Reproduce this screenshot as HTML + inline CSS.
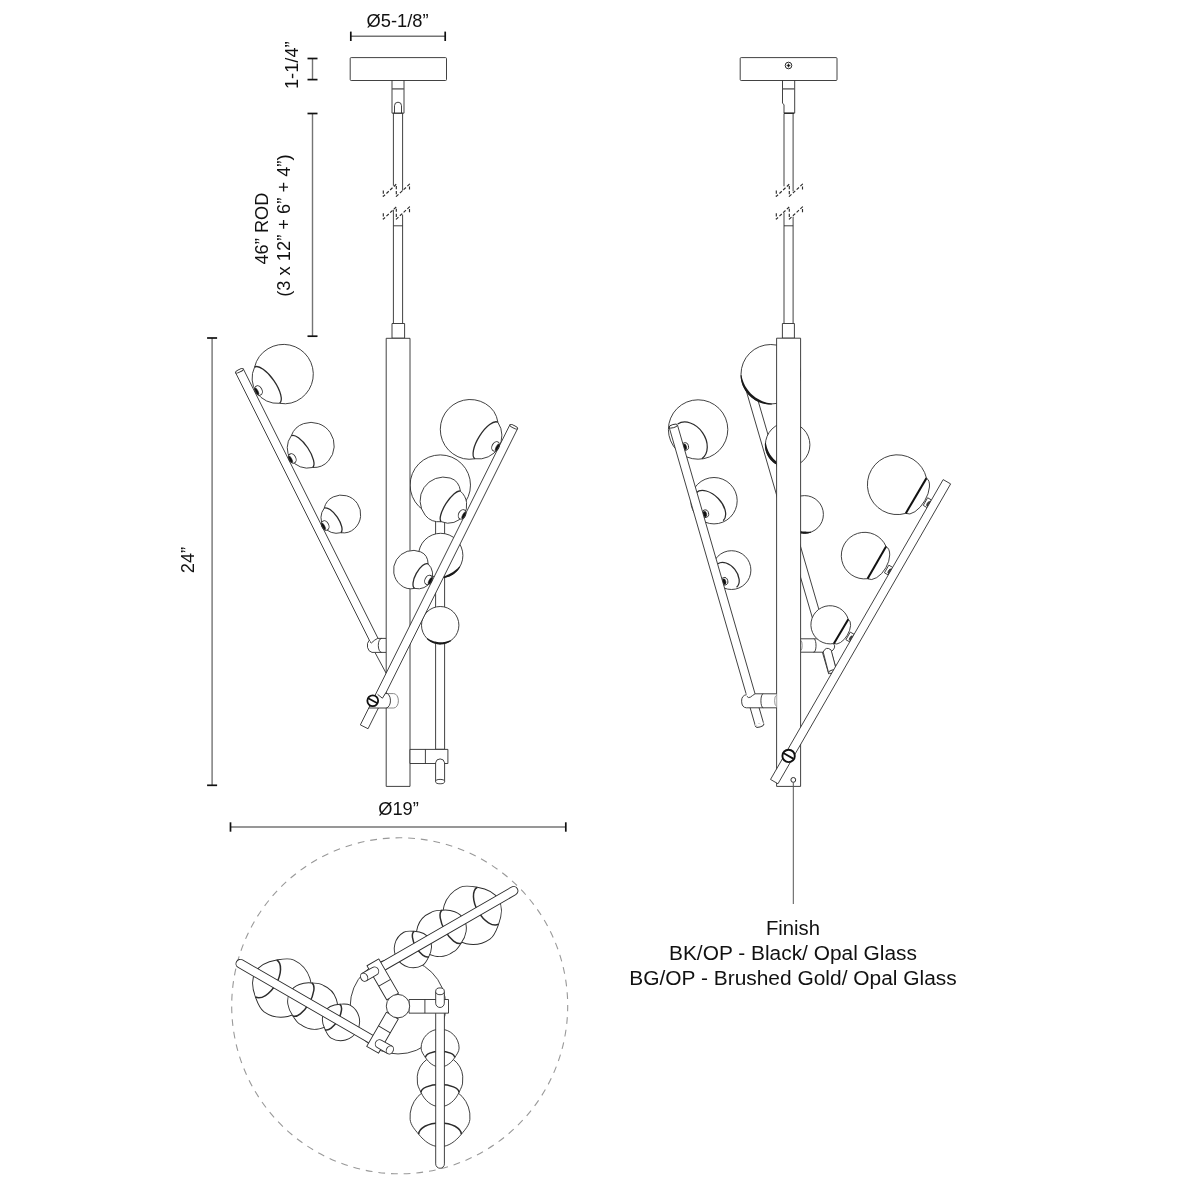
<!DOCTYPE html>
<html lang="en">
<head>
<meta charset="utf-8">
<title>Pendant dimensions</title>
<style>
html,body{margin:0;padding:0;background:#fff;}
body{width:1200px;height:1200px;overflow:hidden;}
svg{display:block;will-change:transform;}
svg text{font-family:"Liberation Sans",sans-serif;fill:#111;}
</style>
</head>
<body>
<svg width="1200" height="1200" viewBox="0 0 1200 1200" stroke-linecap="butt" stroke-linejoin="round">
<rect x="0" y="0" width="1200" height="1200" fill="#ffffff"/>
<rect x="350.2" y="57.6" width="96.3" height="22.9" rx="1" fill="#fff" stroke="#2c2c2c" stroke-width="0.9"/>
<line x1="392" y1="80.5" x2="392" y2="113.2" stroke="#2c2c2c" stroke-width="0.9" />
<line x1="392.3" y1="113.2" x2="403.7" y2="113.2" stroke="#2c2c2c" stroke-width="1.3" />
<line x1="404" y1="80.5" x2="404" y2="113.2" stroke="#2c2c2c" stroke-width="0.9" />
<line x1="392" y1="88.9" x2="404" y2="88.9" stroke="#555" stroke-width="1.3" />
<line x1="393.4" y1="113.5" x2="393.4" y2="185.7" stroke="#2c2c2c" stroke-width="0.9" />
<line x1="402.6" y1="113.5" x2="402.6" y2="190.7" stroke="#2c2c2c" stroke-width="0.9" />
<line x1="393.4" y1="209.7" x2="393.4" y2="323.5" stroke="#2c2c2c" stroke-width="0.9" />
<line x1="402.6" y1="214.7" x2="402.6" y2="323.5" stroke="#2c2c2c" stroke-width="0.9" />
<line x1="393.4" y1="225.8" x2="402.6" y2="225.8" stroke="#2c2c2c" stroke-width="0.9" />
<path d="M383.3 190.5 L383.3 196.4 L396.3 184.2 L396.3 196.4 L409.5 184.2 L409.5 190.9" fill="none" stroke="#2c2c2c" stroke-width="1.15" stroke-dasharray="3.2 1.9"/>
<path d="M383.3 213.2 L383.3 219.1 L396.3 206.9 L396.3 219.1 L409.5 206.9 L409.5 213.6" fill="none" stroke="#2c2c2c" stroke-width="1.15" stroke-dasharray="3.2 1.9"/>
<rect x="392" y="323.5" width="12.6" height="14.7" rx="0" fill="#fff" stroke="#2c2c2c" stroke-width="0.9"/>
<path d="M394.5 113 V105.7 A3.5 3.5 0 0 1 401.5 105.7 V113" fill="none" stroke="#2c2c2c" stroke-width="0.9" />
<line x1="375.1" y1="652.7" x2="386" y2="673" stroke="#2c2c2c" stroke-width="0.9" />
<path d="M301.59 397.88 A29.8 29.8 0 0 0 268.06 348.71 Q257.34 355.2 254.6 367.1 A25.3 25.3 0 0 0 279.6 403.3 Q291.69 405.44 301.59 397.88 Z" fill="#fff" stroke="#2c2c2c" stroke-width="0.9" />
<path d="M254.6 367.1 A22 8.4 55.37 0 1 279.6 403.3" fill="none" stroke="#2c2c2c" stroke-width="1.3" />
<path d="M328.49 460.85 A23.2 23.2 0 0 0 303.6 423.61 Q294.55 426.66 291.25 435.8 A20.24 20.24 0 0 0 312.5 467.5 Q322.23 468.02 328.49 460.85 Z" fill="#fff" stroke="#2c2c2c" stroke-width="0.9" />
<path d="M291.25 435.8 A19.08 7 56.16 0 1 312.5 467.5" fill="none" stroke="#2c2c2c" stroke-width="1.3" />
<path d="M354.59 528.49 A19.3 19.3 0 0 0 333.19 496.93 Q326.02 500.31 324.2 508.2 A15.58 15.58 0 0 0 340.8 532.7 Q348.8 533.91 354.59 528.49 Z" fill="#fff" stroke="#2c2c2c" stroke-width="0.9" />
<path d="M324.2 508.2 A14.8 5.9 55.88 0 1 340.8 532.7" fill="none" stroke="#2c2c2c" stroke-width="1.3" />
<path d="M235.6 372.72 L373.7 648.92 L381.4 645.08 L243.3 368.88 Z" fill="#fff" stroke="none" stroke-width="0" />
<line x1="235.6" y1="372.72" x2="373.7" y2="648.92" stroke="#2c2c2c" stroke-width="0.9" />
<line x1="243.3" y1="368.88" x2="381.4" y2="645.08" stroke="#2c2c2c" stroke-width="0.9" />
<ellipse cx="239.45" cy="370.8" rx="4.3" ry="1.3" transform="rotate(-26.57 239.45 370.8)" fill="#fff" stroke="#2c2c2c" stroke-width="0.9"/>
<ellipse cx="258.5" cy="390.5" rx="3.5" ry="5" transform="rotate(-27 258.5 390.5)" fill="#fff" stroke="#2c2c2c" stroke-width="0.9"/>
<ellipse cx="256.81" cy="391.36" rx="1.26" ry="3.7" transform="rotate(-27 256.81 391.36)" fill="#111" stroke="#2c2c2c" stroke-width="0.5"/>
<ellipse cx="292.3" cy="458.45" rx="3.5" ry="5" transform="rotate(-27 292.3 458.45)" fill="#fff" stroke="#2c2c2c" stroke-width="0.9"/>
<ellipse cx="290.61" cy="459.31" rx="1.26" ry="3.7" transform="rotate(-27 290.61 459.31)" fill="#111" stroke="#2c2c2c" stroke-width="0.5"/>
<ellipse cx="325.2" cy="525.5" rx="3.5" ry="5" transform="rotate(-27 325.2 525.5)" fill="#fff" stroke="#2c2c2c" stroke-width="0.9"/>
<ellipse cx="323.51" cy="526.36" rx="1.26" ry="3.7" transform="rotate(-27 323.51 526.36)" fill="#111" stroke="#2c2c2c" stroke-width="0.5"/>
<path d="M386.2 638.4 H377.7 L371.3 643 L369.2 640.4 A5.6 7 0 0 0 372 652.4 H386.2 Z" fill="#fff" stroke="none" stroke-width="0" />
<line x1="377.7" y1="638.4" x2="386.2" y2="638.4" stroke="#2c2c2c" stroke-width="0.9" />
<path d="M369.3 640.2 A5.7 7 0 0 0 372 652.4 H386.2" fill="none" stroke="#2c2c2c" stroke-width="0.9" />
<path d="M370.1 641.9 L371.3 643 Q375 639.4 377.7 638.4" fill="none" stroke="#2c2c2c" stroke-width="0.9" />
<path d="M381.6 638.4 A3.3 7 0 0 0 381.6 652.4" fill="none" stroke="#2c2c2c" stroke-width="0.9" />
<rect x="435.6" y="515" width="9" height="234.3" rx="0" fill="#fff" stroke="#2c2c2c" stroke-width="0.9"/>
<circle cx="440.3" cy="485.1" r="30.2" fill="#fff" stroke="#2c2c2c" stroke-width="0.9" />
<circle cx="440.7" cy="555.5" r="22.2" fill="#fff" stroke="#2c2c2c" stroke-width="0.9" />
<path d="M460.36 566.85 L459.91 567.6 L459.42 568.33 L458.91 569.05 L458.38 569.74 L457.81 570.41 L457.22 571.06 L456.61 571.69 L455.97 572.29 L455.31 572.87 L454.63 573.42 L453.93 573.95 L453.21 574.44 L452.46 574.91 L451.71 575.35 L450.93 575.76 L450.14 576.14 L449.33 576.49 L448.52 576.81 L447.69 577.1 L446.85 577.35 L446 577.57 L445.14 577.76 L444.28 577.92 L443.41 578.04 L442.54 578.13 L441.66 578.18 L440.78 578.2 L439.91 578.19 L439.94 577.29 L440.78 577.06 L441.61 576.86 L442.42 576.65 L443.22 576.43 L444 576.19 L444.78 575.94 L445.54 575.67 L446.29 575.38 L447.03 575.08 L447.76 574.76 L448.48 574.43 L449.19 574.08 L449.9 573.72 L450.59 573.34 L451.28 572.95 L451.95 572.55 L452.62 572.13 L453.29 571.7 L453.94 571.24 L454.59 570.78 L455.24 570.29 L455.87 569.79 L456.5 569.27 L457.12 568.73 L457.73 568.17 L458.33 567.59 L458.94 566.99 L459.58 566.4 Z" fill="#1a1a1a" stroke="none" stroke-width="0" />
<circle cx="440.2" cy="625.2" r="18.7" fill="#fff" stroke="#2c2c2c" stroke-width="0.9" />
<path d="M451.21 640.93 L450.42 641.46 L449.59 641.95 L448.75 642.39 L447.88 642.8 L446.99 643.16 L446.09 643.48 L445.17 643.75 L444.24 643.97 L443.3 644.15 L442.35 644.28 L441.4 644.36 L440.44 644.4 L439.48 644.39 L438.53 644.33 L437.58 644.22 L436.63 644.07 L435.69 643.86 L434.77 643.62 L433.86 643.32 L432.96 642.98 L432.09 642.6 L431.23 642.18 L430.39 641.71 L429.58 641.2 L428.8 640.65 L428.04 640.06 L427.32 639.44 L426.62 638.78 L427.26 638.14 L428.07 638.6 L428.86 639.06 L429.65 639.49 L430.45 639.89 L431.25 640.26 L432.07 640.59 L432.88 640.89 L433.7 641.16 L434.53 641.4 L435.36 641.61 L436.2 641.78 L437.03 641.93 L437.88 642.05 L438.72 642.14 L439.56 642.19 L440.41 642.22 L441.26 642.23 L442.12 642.2 L442.97 642.14 L443.82 642.05 L444.68 641.92 L445.54 641.77 L446.4 641.58 L447.25 641.36 L448.11 641.11 L448.96 640.82 L449.82 640.5 L450.7 640.19 Z" fill="#1a1a1a" stroke="none" stroke-width="0" />
<rect x="386.2" y="338.3" width="23.8" height="448.1" rx="0" fill="#fff" stroke="#2c2c2c" stroke-width="0.9"/>
<rect x="410" y="749.4" width="37.9" height="14.1" rx="0" fill="#fff" stroke="#2c2c2c" stroke-width="0.9"/>
<line x1="425.4" y1="749.4" x2="425.4" y2="763.5" stroke="#2c2c2c" stroke-width="0.9" />
<path d="M435.6 781.6 V762.8 A4.55 4.55 0 0 1 444.6 762.8 V781.6 Z" fill="#fff" stroke="none" stroke-width="0" />
<path d="M435.6 781.6 V762.8 A4.55 4.55 0 0 1 444.6 762.8 V781.6" fill="none" stroke="#2c2c2c" stroke-width="0.9" />
<ellipse cx="440.1" cy="781.6" rx="4.5" ry="2.2" transform="rotate(0 440.1 781.6)" fill="#fff" stroke="#2c2c2c" stroke-width="0.9"/>
<path d="M452.75 453.68 A29.9 29.9 0 0 1 485.43 403.67 Q496.04 409.95 497.9 422.3 A23.54 23.54 0 0 1 475 458.75 Q462.94 461.01 452.75 453.68 Z" fill="#fff" stroke="#2c2c2c" stroke-width="0.9" />
<path d="M497.9 422.3 A21.52 8.2 122.14 0 0 475 458.75" fill="none" stroke="#2c2c2c" stroke-width="1.3" />
<path d="M425.28 515.32 A23.5 23.5 0 0 1 450.15 478.03 Q459.04 480.61 460.5 491.3 A18.19 18.19 0 0 1 441.3 521.7 Q431.22 522.71 425.28 515.32 Z" fill="#fff" stroke="#2c2c2c" stroke-width="0.9" />
<path d="M460.5 491.3 A17.98 5.8 122.28 0 0 441.3 521.7" fill="none" stroke="#2c2c2c" stroke-width="1.3" />
<path d="M400.51 584.94 A19.6 19.6 0 0 1 420.78 551.92 Q427.9 554.91 428.1 563.9 A14.43 14.43 0 0 1 414.7 588.4 Q406.63 590.14 400.51 584.94 Z" fill="#fff" stroke="#2c2c2c" stroke-width="0.9" />
<path d="M428.1 563.9 A13.96 5.8 118.68 0 0 414.7 588.4" fill="none" stroke="#2c2c2c" stroke-width="1.3" />
<path d="M509.9 424.78 L360.35 724.88 L368.05 728.72 L517.6 428.62 Z" fill="#fff" stroke="none" stroke-width="0" />
<line x1="509.9" y1="424.78" x2="360.35" y2="724.88" stroke="#2c2c2c" stroke-width="0.9" />
<line x1="517.6" y1="428.62" x2="368.05" y2="728.72" stroke="#2c2c2c" stroke-width="0.9" />
<line x1="360.35" y1="724.88" x2="368.05" y2="728.72" stroke="#2c2c2c" stroke-width="0.9" />
<ellipse cx="513.75" cy="426.7" rx="4.3" ry="1.3" transform="rotate(26.5 513.75 426.7)" fill="#fff" stroke="#2c2c2c" stroke-width="0.9"/>
<ellipse cx="495.6" cy="446.4" rx="3.5" ry="5" transform="rotate(27 495.6 446.4)" fill="#fff" stroke="#2c2c2c" stroke-width="0.9"/>
<ellipse cx="497.29" cy="447.26" rx="1.26" ry="3.7" transform="rotate(27 497.29 447.26)" fill="#111" stroke="#2c2c2c" stroke-width="0.5"/>
<ellipse cx="462.1" cy="514.4" rx="3.5" ry="5" transform="rotate(27 462.1 514.4)" fill="#fff" stroke="#2c2c2c" stroke-width="0.9"/>
<ellipse cx="463.79" cy="515.26" rx="1.26" ry="3.7" transform="rotate(27 463.79 515.26)" fill="#111" stroke="#2c2c2c" stroke-width="0.5"/>
<ellipse cx="428.5" cy="579.95" rx="3.5" ry="5" transform="rotate(27 428.5 579.95)" fill="#fff" stroke="#2c2c2c" stroke-width="0.9"/>
<ellipse cx="430.19" cy="580.81" rx="1.26" ry="3.7" transform="rotate(27 430.19 580.81)" fill="#111" stroke="#2c2c2c" stroke-width="0.5"/>
<path d="M377.6 694.4 L382.4 698.2 L385.6 693.4 H393.7 A4.7 7.2 0 0 1 393.7 708 H371 L373 700 Z" fill="#fff" stroke="none" stroke-width="0" />
<path d="M393.7 693.6 A4.7 7.2 0 0 1 393.7 708" fill="none" stroke="#8a8a8a" stroke-width="1.0" />
<line x1="385.6" y1="693.6" x2="393.7" y2="693.6" stroke="#8a8a8a" stroke-width="1.0" />
<line x1="386.4" y1="708" x2="393.7" y2="708" stroke="#8a8a8a" stroke-width="1.0" />
<line x1="369" y1="708" x2="386.4" y2="708" stroke="#2c2c2c" stroke-width="0.9" />
<path d="M385.6 693.2 A4.5 7.3 0 0 1 386.2 708" fill="none" stroke="#2c2c2c" stroke-width="0.9" />
<path d="M385.6 693.1 L382.4 698.2 L377.6 694.4" fill="none" stroke="#2c2c2c" stroke-width="0.9" />
<circle cx="372.75" cy="700.7" r="5.4" fill="#fff" stroke="#111" stroke-width="1.8" />
<line x1="368.2" y1="698.3" x2="377.4" y2="703.2" stroke="#111" stroke-width="1.7" />
<line x1="350.8" y1="36.3" x2="445.2" y2="36.3" stroke="#747474" stroke-width="1.4" />
<line x1="350.8" y1="31.6" x2="350.8" y2="41" stroke="#111" stroke-width="1.7" />
<line x1="445.2" y1="31.6" x2="445.2" y2="41" stroke="#111" stroke-width="1.7" />
<text x="397.5" y="26.7" font-size="18.3" text-anchor="middle">Ø5-1/8”</text>
<line x1="312.5" y1="58.5" x2="312.5" y2="79.6" stroke="#747474" stroke-width="1.4" />
<line x1="307.5" y1="58.5" x2="317.5" y2="58.5" stroke="#111" stroke-width="1.7" />
<line x1="307.5" y1="79.6" x2="317.5" y2="79.6" stroke="#111" stroke-width="1.7" />
<text x="298" y="65.2" font-size="18.3" text-anchor="middle" transform="rotate(-90 298 65.2)">1-1/4”</text>
<line x1="312.5" y1="113.5" x2="312.5" y2="336.2" stroke="#747474" stroke-width="1.4" />
<line x1="307.5" y1="113.5" x2="317.5" y2="113.5" stroke="#111" stroke-width="1.7" />
<line x1="307.5" y1="336.2" x2="317.5" y2="336.2" stroke="#111" stroke-width="1.7" />
<text x="268.3" y="228.5" font-size="18.3" text-anchor="middle" transform="rotate(-90 268.3 228.5)">46” ROD</text>
<text x="290.3" y="225.6" font-size="18.3" text-anchor="middle" transform="rotate(-90 290.3 225.6)">(3 x 12” + 6” + 4”)</text>
<line x1="212.1" y1="338" x2="212.1" y2="785.3" stroke="#747474" stroke-width="1.4" />
<line x1="207.1" y1="338" x2="217.1" y2="338" stroke="#111" stroke-width="1.7" />
<line x1="207.1" y1="785.3" x2="217.1" y2="785.3" stroke="#111" stroke-width="1.7" />
<text x="194" y="560" font-size="18.3" text-anchor="middle" transform="rotate(-90 194 560)">24”</text>
<line x1="230.5" y1="827" x2="565.8" y2="827" stroke="#747474" stroke-width="1.4" />
<line x1="230.5" y1="822.3" x2="230.5" y2="831.7" stroke="#111" stroke-width="1.7" />
<line x1="565.8" y1="822.3" x2="565.8" y2="831.7" stroke="#111" stroke-width="1.7" />
<text x="398.5" y="815.3" font-size="18.3" text-anchor="middle">Ø19”</text>
<rect x="740.2" y="57.6" width="96.8" height="22.9" rx="1" fill="#fff" stroke="#2c2c2c" stroke-width="0.9"/>
<path d="M782.5 80.5 V103.3 L784 104.6 V113.2" fill="none" stroke="#2c2c2c" stroke-width="0.9" />
<line x1="784" y1="113.2" x2="794.4" y2="113.2" stroke="#2c2c2c" stroke-width="1.6" />
<line x1="794.7" y1="80.5" x2="794.7" y2="113.2" stroke="#2c2c2c" stroke-width="0.9" />
<line x1="782.5" y1="88.9" x2="794.7" y2="88.9" stroke="#555" stroke-width="1.3" />
<line x1="784" y1="113.5" x2="784" y2="186.3" stroke="#2c2c2c" stroke-width="0.9" />
<line x1="793.1" y1="113.5" x2="793.1" y2="191.3" stroke="#2c2c2c" stroke-width="0.9" />
<line x1="784" y1="212.7" x2="784" y2="323.5" stroke="#2c2c2c" stroke-width="0.9" />
<line x1="793.1" y1="216.7" x2="793.1" y2="323.5" stroke="#2c2c2c" stroke-width="0.9" />
<line x1="784" y1="225.8" x2="793.1" y2="225.8" stroke="#2c2c2c" stroke-width="0.9" />
<path d="M776.3 190.5 L776.3 196.4 L789.3 184.2 L789.3 196.4 L802.5 184.2 L802.5 190.9" fill="none" stroke="#2c2c2c" stroke-width="1.15" stroke-dasharray="3.2 1.9"/>
<path d="M776.3 213.2 L776.3 219.1 L789.3 206.9 L789.3 219.1 L802.5 206.9 L802.5 213.6" fill="none" stroke="#2c2c2c" stroke-width="1.15" stroke-dasharray="3.2 1.9"/>
<rect x="782.4" y="323.5" width="12" height="14.7" rx="0" fill="#fff" stroke="#2c2c2c" stroke-width="0.9"/>
<circle cx="788.5" cy="65.5" r="3.3" fill="#fff" stroke="#2c2c2c" stroke-width="1.0" />
<path d="M788.5 63.6 L789.1 64.9 L790.4 65.5 L789.1 66.1 L788.5 67.4 L787.9 66.1 L786.6 65.5 L787.9 64.9 Z" fill="#111" stroke="#111" stroke-width="0.4" />
<path d="M743.44 381.2 L828.8 674.2 L837.05 671.8 L751.7 378.8 Z" fill="#fff" stroke="none" stroke-width="0" />
<line x1="743.44" y1="381.2" x2="828.8" y2="674.2" stroke="#2c2c2c" stroke-width="0.9" />
<line x1="751.7" y1="378.8" x2="837.05" y2="671.8" stroke="#2c2c2c" stroke-width="0.9" />
<circle cx="770.75" cy="374.25" r="29.75" fill="#fff" stroke="#2c2c2c" stroke-width="0.9" />
<path d="M771.81 404.48 L770.11 404.49 L768.41 404.41 L766.73 404.23 L765.05 403.96 L763.4 403.59 L761.76 403.13 L760.16 402.58 L758.58 401.95 L757.05 401.22 L755.56 400.41 L754.12 399.52 L752.73 398.54 L751.39 397.5 L750.12 396.37 L748.91 395.18 L747.77 393.92 L746.71 392.61 L745.71 391.23 L744.8 389.8 L743.97 388.32 L743.22 386.79 L742.56 385.23 L741.99 383.63 L741.51 382.01 L741.12 380.35 L740.83 378.68 L740.63 377 L740.52 375.31 L741.42 375.27 L741.82 376.89 L742.22 378.48 L742.69 380.03 L743.22 381.55 L743.82 383.04 L744.49 384.48 L745.21 385.89 L746 387.25 L746.85 388.57 L747.75 389.85 L748.71 391.07 L749.72 392.26 L750.78 393.39 L751.89 394.47 L753.05 395.5 L754.26 396.48 L755.5 397.41 L756.8 398.28 L758.13 399.09 L759.51 399.84 L760.92 400.53 L762.38 401.16 L763.86 401.72 L765.39 402.22 L766.94 402.64 L768.52 403 L770.13 403.3 L771.77 403.58 Z" fill="#1a1a1a" stroke="none" stroke-width="0" />
<circle cx="787.65" cy="444.8" r="22.25" fill="#fff" stroke="#2c2c2c" stroke-width="0.9" />
<path d="M785.67 467.46 L784.4 467.32 L783.14 467.1 L781.9 466.81 L780.67 466.45 L779.47 466.03 L778.29 465.54 L777.15 464.98 L776.03 464.36 L774.95 463.68 L773.91 462.93 L772.92 462.14 L771.97 461.28 L771.07 460.38 L770.22 459.42 L769.43 458.42 L768.69 457.38 L768.02 456.3 L767.41 455.18 L766.86 454.03 L766.37 452.85 L765.95 451.64 L765.6 450.41 L765.32 449.17 L765.11 447.91 L764.97 446.64 L764.91 445.37 L764.91 444.09 L764.99 442.82 L765.88 442.9 L766.16 444.13 L766.41 445.33 L766.69 446.5 L767.02 447.65 L767.39 448.76 L767.8 449.85 L768.26 450.91 L768.75 451.95 L769.28 452.95 L769.84 453.93 L770.44 454.88 L771.08 455.8 L771.74 456.69 L772.44 457.56 L773.18 458.4 L773.94 459.21 L774.74 459.99 L775.57 460.75 L776.43 461.48 L777.33 462.17 L778.26 462.84 L779.23 463.47 L780.23 464.06 L781.26 464.62 L782.33 465.14 L783.44 465.63 L784.58 466.08 L785.75 466.57 Z" fill="#1a1a1a" stroke="none" stroke-width="0" />
<circle cx="804.6" cy="514.4" r="18.8" fill="#fff" stroke="#2c2c2c" stroke-width="0.9" />
<path d="M811.2 532.54 L810.66 532.73 L810.1 532.9 L809.55 533.05 L808.99 533.19 L808.42 533.32 L807.86 533.42 L807.29 533.51 L806.71 533.58 L806.14 533.64 L805.56 533.68 L804.98 533.7 L804.41 533.7 L803.83 533.68 L803.25 533.65 L802.68 533.6 L802.1 533.54 L801.53 533.45 L800.96 533.35 L800.4 533.24 L799.84 533.1 L799.28 532.95 L798.73 532.78 L798.18 532.6 L797.64 532.4 L797.1 532.18 L796.57 531.95 L796.05 531.7 L795.54 531.44 L795.96 530.65 L796.55 530.7 L797.11 530.78 L797.66 530.86 L798.2 530.94 L798.74 531.01 L799.27 531.08 L799.8 531.14 L800.32 531.2 L800.84 531.25 L801.36 531.3 L801.87 531.34 L802.39 531.38 L802.9 531.42 L803.41 531.46 L803.92 531.49 L804.43 531.53 L804.94 531.56 L805.46 531.58 L805.98 531.61 L806.5 531.63 L807.02 531.65 L807.55 531.66 L808.09 531.67 L808.63 531.67 L809.18 531.67 L809.74 531.66 L810.3 531.66 L810.89 531.69 Z" fill="#1a1a1a" stroke="none" stroke-width="0" />
<path d="M800.6 638.8 H832 A4 6.7 0 0 1 832 652.2 H800.6 Z" fill="#fff" stroke="none" stroke-width="0" />
<line x1="800.6" y1="638.8" x2="832" y2="638.8" stroke="#2c2c2c" stroke-width="0.9" />
<line x1="800.6" y1="652.2" x2="823.4" y2="652.2" stroke="#2c2c2c" stroke-width="0.9" />
<path d="M814.1 638.8 A2.2 6.7 0 0 1 813.5 652.2" fill="none" stroke="#2c2c2c" stroke-width="0.9" />
<path d="M800.6 640.2 A2 5.4 0 0 1 800.6 650.8" fill="none" stroke="#8a8a8a" stroke-width="0.9" />
<path d="M833.3 643.4 Q836.6 647 832 651" fill="none" stroke="#2c2c2c" stroke-width="0.9" />
<path d="M823.2 652.03 L828.52 672.53 L836.46 670.47 L831.13 649.97 Z" fill="#fff" stroke="none" stroke-width="0" />
<line x1="823.2" y1="652.03" x2="828.52" y2="672.53" stroke="#2c2c2c" stroke-width="0.9" />
<line x1="831.13" y1="649.97" x2="836.46" y2="670.47" stroke="#2c2c2c" stroke-width="0.9" />
<ellipse cx="832.49" cy="671.5" rx="4.1" ry="1.5" transform="rotate(-17 832.49 671.5)" fill="#fff" stroke="#2c2c2c" stroke-width="0.9"/>
<path d="M831.13 649.97 Q825.96 645.8 823.2 652.03" fill="#fff" stroke="#2c2c2c" stroke-width="0.9" />
<rect x="776.6" y="338.2" width="24" height="448.2" rx="0" fill="#fff" stroke="#2c2c2c" stroke-width="0.9"/>
<circle cx="793.3" cy="779.9" r="2.4" fill="#fff" stroke="#2c2c2c" stroke-width="1.0" />
<line x1="793.3" y1="782.4" x2="793.3" y2="904" stroke="#555" stroke-width="1.0" />
<path d="M926.47 478.13 A29.9 29.9 0 1 0 905.72 513.39 A20.46 10.2 -59.53 0 0 926.47 478.13 Z" fill="#fff" stroke="#2c2c2c" stroke-width="0.9" />
<line x1="926.47" y1="478.13" x2="905.72" y2="513.39" stroke="#111" stroke-width="2.0" />
<path d="M927.63 497.78 L931.44 499.98 L927.05 507.6 L923.24 505.41 Z" fill="#fff" stroke="#2c2c2c" stroke-width="0.9" />
<ellipse cx="928.47" cy="503.94" rx="1.3" ry="2.6" transform="rotate(29.93 928.47 503.94)" fill="#444" stroke="#2c2c2c" stroke-width="0.8"/>
<path d="M886.06 546.52 A23.3 23.3 0 1 0 867.53 578.72 A18.57 10.4 -60.07 0 0 886.06 546.52 Z" fill="#fff" stroke="#2c2c2c" stroke-width="0.9" />
<line x1="886.06" y1="546.52" x2="867.53" y2="578.72" stroke="#111" stroke-width="2.0" />
<path d="M888.83 565.17 L892.64 567.36 L888.25 574.99 L884.44 572.79 Z" fill="#fff" stroke="#2c2c2c" stroke-width="0.9" />
<ellipse cx="889.67" cy="571.33" rx="1.3" ry="2.6" transform="rotate(29.93 889.67 571.33)" fill="#444" stroke="#2c2c2c" stroke-width="0.8"/>
<path d="M848.31 619.36 A19.1 19.1 0 1 0 833.92 643.49 A14.05 7.4 -59.2 0 0 848.31 619.36 Z" fill="#fff" stroke="#2c2c2c" stroke-width="0.9" />
<line x1="848.31" y1="619.36" x2="833.92" y2="643.49" stroke="#111" stroke-width="2.0" />
<path d="M850.29 632.1 L854.1 634.29 L849.71 641.92 L845.9 639.72 Z" fill="#fff" stroke="#2c2c2c" stroke-width="0.9" />
<ellipse cx="851.13" cy="638.26" rx="1.3" ry="2.6" transform="rotate(29.93 851.13 638.26)" fill="#444" stroke="#2c2c2c" stroke-width="0.8"/>
<path d="M943.17 479.6 L770.52 779.45 L777.98 783.75 L950.63 483.9 Z" fill="#fff" stroke="none" stroke-width="0" />
<line x1="943.17" y1="479.6" x2="770.52" y2="779.45" stroke="#2c2c2c" stroke-width="0.9" />
<line x1="950.63" y1="483.9" x2="777.98" y2="783.75" stroke="#2c2c2c" stroke-width="0.9" />
<line x1="943.17" y1="479.6" x2="950.63" y2="483.9" stroke="#2c2c2c" stroke-width="0.9" />
<line x1="770.52" y1="779.45" x2="777.98" y2="783.75" stroke="#2c2c2c" stroke-width="0.9" />
<circle cx="788.6" cy="755.9" r="6.2" fill="#fff" stroke="#111" stroke-width="1.9" />
<line x1="783.8" y1="753.2" x2="793.2" y2="758.6" stroke="#111" stroke-width="1.8" />
<circle cx="698.1" cy="429.5" r="29.7" fill="#fff" stroke="#2c2c2c" stroke-width="0.9" />
<path d="M677.65 424.1 A21.15 15.8 55.01 0 1 701.9 458.75" fill="none" stroke="#2c2c2c" stroke-width="1.25" />
<circle cx="714" cy="500.7" r="23.2" fill="#fff" stroke="#2c2c2c" stroke-width="0.9" />
<path d="M696.3 492.7 A19.41 11.8 46.15 0 1 723.2 520.7" fill="none" stroke="#2c2c2c" stroke-width="1.25" />
<circle cx="731.5" cy="570.1" r="19.4" fill="#fff" stroke="#2c2c2c" stroke-width="0.9" />
<path d="M717.9 563.8 A14.98 9.9 51.37 0 1 736.6 587.2" fill="none" stroke="#2c2c2c" stroke-width="1.25" />
<ellipse cx="685.2" cy="446.5" rx="3.3" ry="3.8" transform="rotate(-16 685.2 446.5)" fill="#fff" stroke="#2c2c2c" stroke-width="0.9"/>
<ellipse cx="684.7" cy="446.9" rx="1.9" ry="2.9" transform="rotate(-16 684.7 446.9)" fill="#111" stroke="#2c2c2c" stroke-width="0.5"/>
<ellipse cx="705.3" cy="513.7" rx="3.3" ry="3.8" transform="rotate(-16 705.3 513.7)" fill="#fff" stroke="#2c2c2c" stroke-width="0.9"/>
<ellipse cx="704.8" cy="514.1" rx="1.9" ry="2.9" transform="rotate(-16 704.8 514.1)" fill="#111" stroke="#2c2c2c" stroke-width="0.5"/>
<ellipse cx="724.5" cy="581.3" rx="3.3" ry="3.8" transform="rotate(-16 724.5 581.3)" fill="#fff" stroke="#2c2c2c" stroke-width="0.9"/>
<ellipse cx="724" cy="581.7" rx="1.9" ry="2.9" transform="rotate(-16 724 581.7)" fill="#111" stroke="#2c2c2c" stroke-width="0.5"/>
<path d="M669.17 427.29 L755.57 726.59 L763.83 724.21 L677.43 424.91 Z" fill="#fff" stroke="none" stroke-width="0" />
<line x1="669.17" y1="427.29" x2="755.57" y2="726.59" stroke="#2c2c2c" stroke-width="0.9" />
<line x1="677.43" y1="424.91" x2="763.83" y2="724.21" stroke="#2c2c2c" stroke-width="0.9" />
<ellipse cx="673.3" cy="426.1" rx="4.3" ry="1.6" transform="rotate(-16 673.3 426.1)" fill="#fff" stroke="#2c2c2c" stroke-width="0.9"/>
<ellipse cx="759.7" cy="725.4" rx="4.3" ry="1.6" transform="rotate(-16 759.7 725.4)" fill="#fff" stroke="#2c2c2c" stroke-width="0.9"/>
<path d="M755.5 726 L763.7 723.7 L763.3 722.2 L755.1 724.5 Z" fill="#fff" stroke="none" stroke-width="0" />
<path d="M745.2 693.8 H776.6 V707.8 H745.2 A3.6 7 0 0 1 745.2 693.8 Z" fill="#fff" stroke="none" stroke-width="0" />
<line x1="755" y1="693.8" x2="776.6" y2="693.8" stroke="#2c2c2c" stroke-width="0.9" />
<path d="M746.6 694.6 Q741.4 695.6 741.6 701.2 Q741.8 707.6 746.4 707.8 H776.6" fill="none" stroke="#2c2c2c" stroke-width="0.9" />
<path d="M763.2 693.8 A2.3 7 0 0 0 763.2 707.8" fill="none" stroke="#2c2c2c" stroke-width="0.9" />
<path d="M776.6 695.4 A2 5.4 0 0 0 776.6 706.2" fill="none" stroke="#8a8a8a" stroke-width="0.9" />
<path d="M746.8 696.2 Q748.4 698.4 750.3 697.2 Q752.4 695.6 755 693.8" fill="none" stroke="#2c2c2c" stroke-width="0.9" />
<text x="793" y="934.6" font-size="19.6" text-anchor="middle" textLength="54" lengthAdjust="spacingAndGlyphs">Finish</text>
<text x="793" y="960" font-size="19.6" text-anchor="middle" textLength="248" lengthAdjust="spacingAndGlyphs">BK/OP - Black/ Opal Glass</text>
<text x="793" y="985" font-size="19.6" text-anchor="middle" textLength="327.5" lengthAdjust="spacingAndGlyphs">BG/OP - Brushed Gold/ Opal Glass</text>
<circle cx="399.7" cy="1005.8" r="168" fill="none" stroke="#999999" stroke-width="1.1" stroke-dasharray="6.8 5.918" stroke-dashoffset="1.36"/>
<circle cx="398" cy="1006.15" r="47.8" fill="#fff" stroke="#2c2c2c" stroke-width="0.9" />
<g transform="rotate(0 398 1006.15)">
<path d="M410.11 1119.3 C410.61 1125.04 415.03 1129.86 418.7 1134.3 C424.35 1141.14 431.13 1146.7 440 1146.7 C448.87 1146.7 455.65 1141.14 461.3 1134.3 C464.97 1129.86 469.39 1125.04 469.89 1119.3 A30 30 0 1 0 410.11 1119.3 Z" fill="#fff" stroke="#2c2c2c" stroke-width="0.9" />
<path d="M418.7 1134.3 A21.3 11.4 0 0 1 461.3 1134.3" fill="none" stroke="#2c2c2c" stroke-width="1.5" />
<path d="M417.39 1081 C416.88 1084.95 419.37 1088.76 421 1092.4 C424.5 1100.21 431.44 1106.7 440 1106.7 C448.56 1106.7 455.5 1100.21 459 1092.4 C460.63 1088.76 463.12 1084.95 462.61 1081 A22.8 22.8 0 1 0 417.39 1081 Z" fill="#fff" stroke="#2c2c2c" stroke-width="0.9" />
<path d="M421 1092.4 A19 7.8 0 0 1 459 1092.4" fill="none" stroke="#2c2c2c" stroke-width="1.5" />
<path d="M421.1 1048.1 C421.12 1051.59 423.58 1054.68 425.5 1057.6 C428.93 1062.82 433.85 1067 440.1 1067 C446.35 1067 451.27 1062.82 454.7 1057.6 C456.62 1054.68 459.08 1051.59 459.1 1048.1 A19 19 0 1 0 421.1 1048.1 Z" fill="#fff" stroke="#2c2c2c" stroke-width="0.9" />
<path d="M425.5 1057.6 A14.6 6.4 0 0 1 454.7 1057.6" fill="none" stroke="#2c2c2c" stroke-width="1.5" />
</g>
<g transform="rotate(120 398 1006.15)">
<path d="M410.11 1119.3 C410.61 1125.04 415.03 1129.86 418.7 1134.3 C424.35 1141.14 431.13 1146.7 440 1146.7 C448.87 1146.7 455.65 1141.14 461.3 1134.3 C464.97 1129.86 469.39 1125.04 469.89 1119.3 A30 30 0 1 0 410.11 1119.3 Z" fill="#fff" stroke="#2c2c2c" stroke-width="0.9" />
<path d="M418.7 1134.3 A21.3 11.4 0 0 1 461.3 1134.3" fill="none" stroke="#2c2c2c" stroke-width="1.5" />
<path d="M417.39 1081 C416.88 1084.95 419.37 1088.76 421 1092.4 C424.5 1100.21 431.44 1106.7 440 1106.7 C448.56 1106.7 455.5 1100.21 459 1092.4 C460.63 1088.76 463.12 1084.95 462.61 1081 A22.8 22.8 0 1 0 417.39 1081 Z" fill="#fff" stroke="#2c2c2c" stroke-width="0.9" />
<path d="M421 1092.4 A19 7.8 0 0 1 459 1092.4" fill="none" stroke="#2c2c2c" stroke-width="1.5" />
<path d="M421.1 1048.1 C421.12 1051.59 423.58 1054.68 425.5 1057.6 C428.93 1062.82 433.85 1067 440.1 1067 C446.35 1067 451.27 1062.82 454.7 1057.6 C456.62 1054.68 459.08 1051.59 459.1 1048.1 A19 19 0 1 0 421.1 1048.1 Z" fill="#fff" stroke="#2c2c2c" stroke-width="0.9" />
<path d="M425.5 1057.6 A14.6 6.4 0 0 1 454.7 1057.6" fill="none" stroke="#2c2c2c" stroke-width="1.5" />
</g>
<g transform="rotate(240 398 1006.15)">
<path d="M410.11 1119.3 C410.61 1125.04 415.03 1129.86 418.7 1134.3 C424.35 1141.14 431.13 1146.7 440 1146.7 C448.87 1146.7 455.65 1141.14 461.3 1134.3 C464.97 1129.86 469.39 1125.04 469.89 1119.3 A30 30 0 1 0 410.11 1119.3 Z" fill="#fff" stroke="#2c2c2c" stroke-width="0.9" />
<path d="M418.7 1134.3 A21.3 11.4 0 0 1 461.3 1134.3" fill="none" stroke="#2c2c2c" stroke-width="1.5" />
<path d="M417.39 1081 C416.88 1084.95 419.37 1088.76 421 1092.4 C424.5 1100.21 431.44 1106.7 440 1106.7 C448.56 1106.7 455.5 1100.21 459 1092.4 C460.63 1088.76 463.12 1084.95 462.61 1081 A22.8 22.8 0 1 0 417.39 1081 Z" fill="#fff" stroke="#2c2c2c" stroke-width="0.9" />
<path d="M421 1092.4 A19 7.8 0 0 1 459 1092.4" fill="none" stroke="#2c2c2c" stroke-width="1.5" />
<path d="M421.1 1048.1 C421.12 1051.59 423.58 1054.68 425.5 1057.6 C428.93 1062.82 433.85 1067 440.1 1067 C446.35 1067 451.27 1062.82 454.7 1057.6 C456.62 1054.68 459.08 1051.59 459.1 1048.1 A19 19 0 1 0 421.1 1048.1 Z" fill="#fff" stroke="#2c2c2c" stroke-width="0.9" />
<path d="M425.5 1057.6 A14.6 6.4 0 0 1 454.7 1057.6" fill="none" stroke="#2c2c2c" stroke-width="1.5" />
</g>
<g transform="rotate(0 398 1006.15)">
<path d="M435.7 1013.15 V1163.9 A4.35 4.35 0 0 0 444.4 1163.9 V1013.15" fill="#fff" stroke="#2c2c2c" stroke-width="0.9" />
<rect x="409" y="999.5" width="39.5" height="13.65" rx="0" fill="#fff" stroke="#2c2c2c" stroke-width="0.9"/>
<line x1="424.9" y1="999.5" x2="424.9" y2="1013.15" stroke="#2c2c2c" stroke-width="0.9" />
<path d="M435.7 991.3 V1003.2 A4.3 4.3 0 0 0 444.3 1003.2 V991.3 Z" fill="#fff" stroke="none" stroke-width="0" />
<path d="M435.7 991.3 V1003.2 A4.3 4.3 0 0 0 444.3 1003.2 V991.3" fill="none" stroke="#2c2c2c" stroke-width="0.9" />
<ellipse cx="440" cy="991.3" rx="4.3" ry="3.4" transform="rotate(0 440 991.3)" fill="#fff" stroke="#2c2c2c" stroke-width="0.9"/>
</g>
<g transform="rotate(120 398 1006.15)">
<path d="M435.7 1013.15 V1163.9 A4.35 4.35 0 0 0 444.4 1163.9 V1013.15" fill="#fff" stroke="#2c2c2c" stroke-width="0.9" />
<rect x="409" y="999.5" width="39.5" height="13.65" rx="0" fill="#fff" stroke="#2c2c2c" stroke-width="0.9"/>
<line x1="424.9" y1="999.5" x2="424.9" y2="1013.15" stroke="#2c2c2c" stroke-width="0.9" />
<path d="M435.7 991.3 V1003.2 A4.3 4.3 0 0 0 444.3 1003.2 V991.3 Z" fill="#fff" stroke="none" stroke-width="0" />
<path d="M435.7 991.3 V1003.2 A4.3 4.3 0 0 0 444.3 1003.2 V991.3" fill="none" stroke="#2c2c2c" stroke-width="0.9" />
<ellipse cx="440" cy="991.3" rx="4.3" ry="3.4" transform="rotate(0 440 991.3)" fill="#fff" stroke="#2c2c2c" stroke-width="0.9"/>
</g>
<g transform="rotate(240 398 1006.15)">
<path d="M435.7 1013.15 V1163.9 A4.35 4.35 0 0 0 444.4 1163.9 V1013.15" fill="#fff" stroke="#2c2c2c" stroke-width="0.9" />
<rect x="409" y="999.5" width="39.5" height="13.65" rx="0" fill="#fff" stroke="#2c2c2c" stroke-width="0.9"/>
<line x1="424.9" y1="999.5" x2="424.9" y2="1013.15" stroke="#2c2c2c" stroke-width="0.9" />
<path d="M435.7 991.3 V1003.2 A4.3 4.3 0 0 0 444.3 1003.2 V991.3 Z" fill="#fff" stroke="none" stroke-width="0" />
<path d="M435.7 991.3 V1003.2 A4.3 4.3 0 0 0 444.3 1003.2 V991.3" fill="none" stroke="#2c2c2c" stroke-width="0.9" />
<ellipse cx="440" cy="991.3" rx="4.3" ry="3.4" transform="rotate(0 440 991.3)" fill="#fff" stroke="#2c2c2c" stroke-width="0.9"/>
</g>
<circle cx="398" cy="1006.15" r="11.7" fill="#fff" stroke="#2c2c2c" stroke-width="0.9" />
</svg>
</body>
</html>
